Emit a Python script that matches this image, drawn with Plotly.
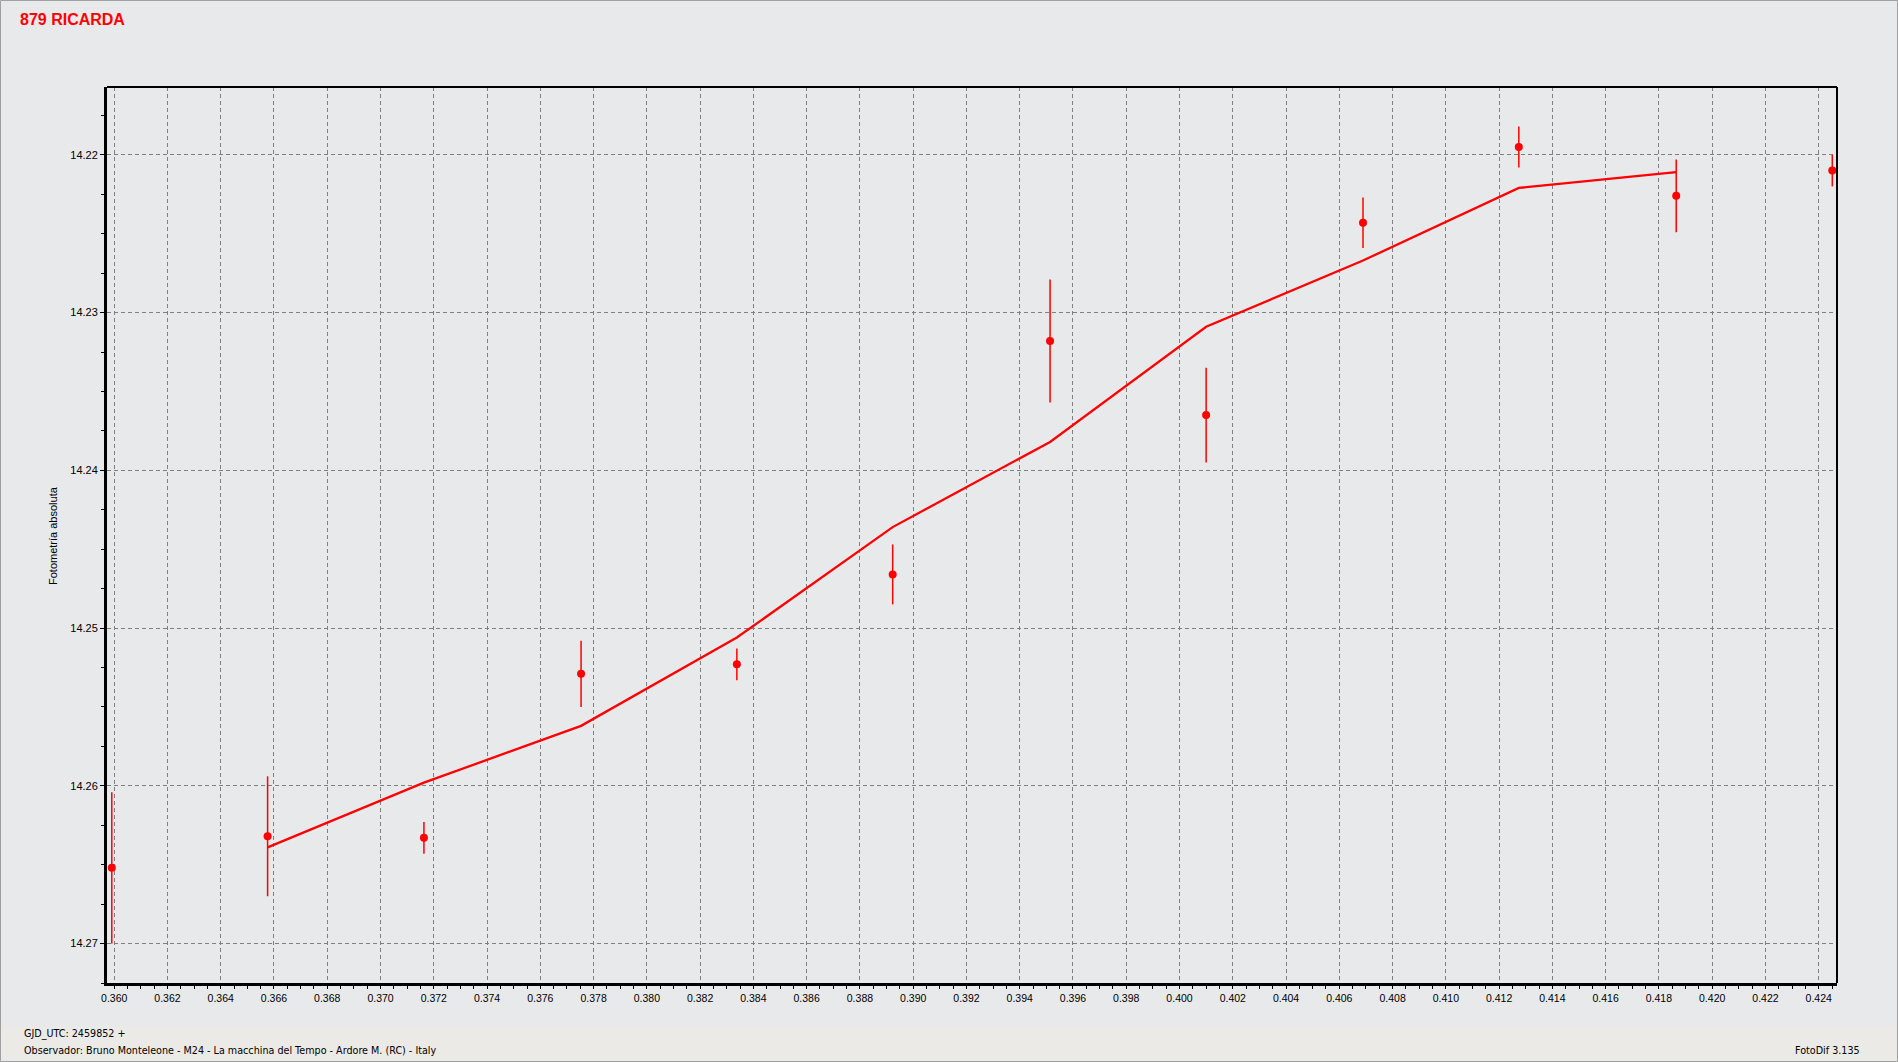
import plotly.graph_objects as go

# ---- data ----
obs_x = [0.35991, 0.36576, 0.37163, 0.37753, 0.38338, 0.38923,
         0.39514, 0.40100, 0.40689, 0.41274, 0.41865, 0.42451]
obs_y = [14.2652, 14.2632, 14.2633, 14.2529, 14.2523, 14.2466,
         14.2318, 14.2365, 14.2243, 14.2195, 14.2226, 14.2210]
obs_err = [0.0048, 0.0038, 0.0010, 0.0021, 0.0010, 0.0019,
           0.0039, 0.0030, 0.0016, 0.0013, 0.0023, 0.0010]

fit_x = [0.36576, 0.37163, 0.37753, 0.38338, 0.38923,
         0.39514, 0.40100, 0.40689, 0.41274, 0.41865]
fit_y = [14.2639, 14.2598, 14.2562, 14.2506, 14.2436,
         14.2382, 14.2309, 14.2267, 14.2221, 14.2211]

x_range = [0.35973, 0.424687]
y_range = [14.2725, 14.2157]

title_text = "879 RICARDA"
y_title = "Fotometría absoluta"
foot_left1 = "GJD_UTC: 2459852 +"
foot_left2 = "Observador: Bruno Monteleone - M24 - La macchina del Tempo - Ardore M. (RC) - Italy"
foot_right = "FotoDif 3.135"

# ---- layout geometry (pixels) ----
W, H = 1898, 1062
L, R, T, B = 107, 1837, 87, 983
PW, PH = R - L, B - T

def px(xp):
    return (xp - L) / PW

def py(yp):
    return (B - yp) / PH

BG = "#e8e9eb"
BAND = "#ebeae7"
RED = "#ff0000"

fig = go.Figure()

fig.add_trace(go.Scatter(
    x=fit_x, y=fit_y, mode="lines",
    line=dict(color=RED, width=2.3),
    hoverinfo="skip", showlegend=False,
))

fig.add_trace(go.Scatter(
    x=obs_x, y=obs_y, mode="markers",
    marker=dict(color=RED, size=8, symbol="circle", line=dict(width=0)),
    error_y=dict(type="data", array=obs_err, symmetric=True,
                 color=RED, thickness=1.5, width=0),
    hoverinfo="skip", showlegend=False, cliponaxis=False,
))

axis_font = dict(family="Liberation Sans, Arial, sans-serif", size=10.5, color="black")

fig.update_xaxes(
    range=x_range, dtick=0.002, tick0=0.36, tickformat=".3f",
    showgrid=True, gridcolor="#808080", gridwidth=1, griddash="4px,3px",
    showline=True, linecolor="black", linewidth=3, mirror=False,
    ticks="outside", ticklen=3, tickcolor="black", tickwidth=1,
    minor=dict(dtick=0.0005, tick0=0.36, ticks="outside", ticklen=3,
               tickcolor="black", tickwidth=1, showgrid=False),
    tickfont=axis_font, zeroline=False, fixedrange=True,
)
fig.update_yaxes(
    range=y_range, dtick=0.01, tick0=14.22, tickformat=".2f",
    showgrid=True, gridcolor="#808080", gridwidth=1, griddash="4px,3px",
    showline=True, linecolor="black", linewidth=3, mirror=False,
    ticks="outside", ticklen=4, tickcolor="black", tickwidth=1,
    minor=dict(dtick=0.0025, tick0=14.22, ticks="outside", ticklen=3,
               tickcolor="black", tickwidth=1, showgrid=False),
    tickfont=dict(family="Liberation Sans, Arial, sans-serif", size=11, color="black"),
    zeroline=False, fixedrange=True,
)

shapes = [
    # status band at the bottom of the window
    dict(type="rect", xref="paper", yref="paper",
         x0=px(1), x1=px(W - 2), y0=py(H - 2), y1=py(1026),
         fillcolor=BAND, line=dict(width=0), layer="below"),
    # top and right frame lines (thinner)
    dict(type="line", xref="paper", yref="paper", x0=0, x1=1, y0=1, y1=1,
         line=dict(color="black", width=2)),
    dict(type="line", xref="paper", yref="paper", x0=1, x1=1, y0=0, y1=1,
         line=dict(color="black", width=2)),
    # outer window border
    dict(type="rect", xref="paper", yref="paper",
         x0=px(0.5), x1=px(W - 0.5), y0=py(H - 0.5), y1=py(0.5),
         line=dict(color="#a0a0a0", width=1), layer="below"),
]

foot_font = dict(family="DejaVu Sans, Tahoma, sans-serif", size=9.6, color="black")
annotations = [
    dict(text=title_text, xref="paper", yref="paper", x=px(18), y=py(20),
         xanchor="left", yanchor="middle", showarrow=False,
         font=dict(family="Liberation Sans, Arial, sans-serif", size=16,
                   color=RED, weight="bold")),
    dict(text=y_title, xref="paper", yref="paper", x=px(53), y=py(536),
         xanchor="center", yanchor="middle", showarrow=False, textangle=-90,
         font=dict(family="Liberation Sans, Arial, sans-serif", size=11, color="black")),
    dict(text=foot_left1, xref="paper", yref="paper", x=px(22), y=py(1034),
         xanchor="left", yanchor="middle", showarrow=False, font=foot_font),
    dict(text=foot_left2, xref="paper", yref="paper", x=px(22), y=py(1050),
         xanchor="left", yanchor="middle", showarrow=False, font=foot_font),
    dict(text=foot_right, xref="paper", yref="paper", x=px(1862), y=py(1050),
         xanchor="right", yanchor="middle", showarrow=False, font=foot_font),
]

fig.update_layout(
    width=W, height=H, autosize=False,
    margin=dict(l=L, r=W - R, t=T, b=H - B, pad=0),
    paper_bgcolor=BG, plot_bgcolor=BG,
    shapes=shapes, annotations=annotations,
    showlegend=False, hovermode=False,
)

fig.write_html(
    "out.html",
    config=dict(displayModeBar=False, staticPlot=True),
    post_script="document.body.style.margin='0';document.body.style.overflow='hidden';",
)
